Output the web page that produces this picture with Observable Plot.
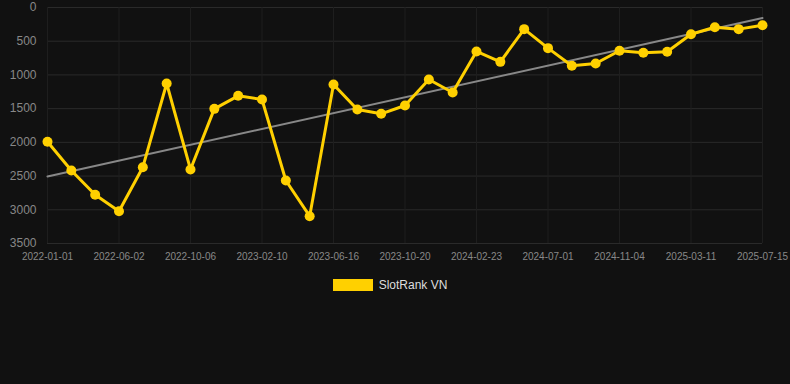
<!DOCTYPE html>
<html>
<head>
<meta charset="utf-8">
<script src="https://cdn.jsdelivr.net/npm/d3@7"></script>
<script src="https://cdn.jsdelivr.net/npm/@observablehq/plot@0.6"></script>
<style>
  html, body { margin: 0; padding: 0; background: #111111; }
  body { width: 790px; height: 384px; overflow: hidden; font-family: "Liberation Sans", Arial, sans-serif; }
  #legend { display: flex; align-items: center; justify-content: center; margin-top: 8px; padding-right: 10px; height: 14px; }
  #legend .sw { width: 40px; height: 12px; background: #FFD000; margin-right: 6px; }
  #legend .lb { color: #dddddd; font-size: 12px; }
</style>
</head>
<body>
<div id="chart"></div>
<div id="legend"><div class="sw"></div><div class="lb">SlotRank VN</div></div>
<script>
const dates = [
  "2022-01-01","2022-02-20","2022-04-11","2022-06-02","2022-07-14","2022-08-25",
  "2022-10-06","2022-11-17","2022-12-29","2023-02-10","2023-03-24","2023-05-05",
  "2023-06-16","2023-07-28","2023-09-08","2023-10-20","2023-12-01","2024-01-12",
  "2024-02-23","2024-04-05","2024-05-18","2024-07-01","2024-08-12","2024-09-23",
  "2024-11-04","2024-12-16","2025-01-27","2025-03-11","2025-04-22","2025-06-03",
  "2025-07-15"
];
const ranks = [
  1990, 2417, 2778, 3021, 2368, 1127,
  2402, 1503, 1310, 1364, 2566, 3095,
  1142, 1513, 1577, 1453, 1068, 1261,
  652, 806, 321, 603, 865, 831,
  642, 672, 657, 396, 292, 321,
  262
];
const seriesName = "SlotRank VN";
const yTicks = [0, 500, 1000, 1500, 2000, 2500, 3000, 3500];

const data = dates.map((d, i) => ({i, date: d, rank: ranks[i]}));
const xTicks = dates.map((d, i) => i).filter(i => i % 3 === 0);

const chart = Plot.plot({
  width: 790,
  height: 270,
  marginLeft: 47,
  marginRight: 28,
  marginTop: 7,
  marginBottom: 27,
  style: { background: "#111111", color: "#888888", fontFamily: "Liberation Sans, Arial, sans-serif" },
  x: { type: "linear", domain: [0, dates.length - 1], ticks: xTicks, tickFormat: i => dates[i], label: null, tickSize: 0, tickPadding: 8 },
  y: { domain: [0, 3500], reverse: true, ticks: yTicks, tickFormat: d => String(d), label: null, tickSize: 0, tickPadding: 11 },
  marks: [
    Plot.gridY(yTicks, { stroke: "#2a2a2a", strokeOpacity: 1 }),
    Plot.gridX(xTicks, { stroke: "#1e1e1e", strokeOpacity: 1 }),
    Plot.axisY({ ticks: yTicks, tickFormat: d => String(d), tickSize: 0, tickPadding: 11, fontSize: 12, fill: "#888888", label: null }),
    Plot.axisX({ ticks: xTicks, tickFormat: i => dates[i], tickSize: 0, tickPadding: 9, fontSize: 10, fill: "#888888", label: null }),
    Plot.linearRegressionY(data, { x: "i", y: "rank", stroke: "#888888", strokeWidth: 2, ci: 0 }),
    Plot.line(data, { x: "i", y: "rank", stroke: "#FFD000", strokeWidth: 3 }),
    Plot.dot(data, { x: "i", y: "rank", r: 5, fill: "#FFD000", stroke: "none" })
  ]
});
document.getElementById("chart").appendChild(chart);
</script>
</body>
</html>
